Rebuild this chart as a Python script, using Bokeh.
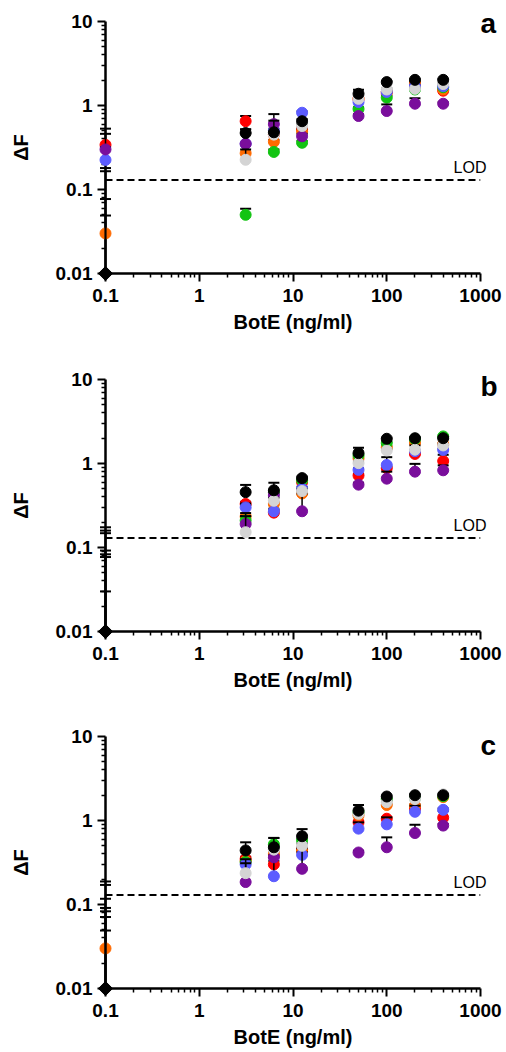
import numpy as np
from bokeh.plotting import figure
from bokeh.layouts import column
from bokeh.models import FixedTicker, CustomJSTickFormatter
from bokeh.core.properties import value
from bokeh.embed import file_html
from bokeh.resources import INLINE

# ---------------- data ----------------
CONC = [0.1, 3.125, 6.25, 12.5, 50, 100, 200, 400]   # BotE (ng/ml)
X_TICKS = [0.1, 1, 10, 100, 1000]
Y_TICKS = [0.01, 0.1, 1, 10]
LOD = 0.13
SERIES = ["red", "orange", "green", "blue", "purple", "grey", "black"]
COLORS = {"red": "#FF0000", "orange": "#FF6A00", "green": "#12C412", "blue": "#5C5CFF",
          "purple": "#7A0E9C", "grey": "#D4D4D4", "black": "#000000"}

# panel a  (mean, upper error)
a_red = [0.34, 0.65, 0.45, 0.52, 1.20, 1.45, 1.80, 1.50]
a_red_sd = [0.19, 0.10, 0.03, 0.03, 0.05, 0.05, 0.05, 0.05]
a_orange = [0.030, 0.27, 0.37, 0.49, 1.20, 1.38, 1.85, 1.55]
a_orange_sd = [0.019, 0.08, 0.02, 0.03, 0.05, 0.05, 0.05, 0.05]
a_green = [0.004, 0.050, 0.28, 0.36, 0.91, 1.24, 1.55, 1.65]
a_green_sd = [0.176, 0.009, 0.02, 0.02, 0.05, 0.05, 0.05, 0.05]
a_blue = [0.225, 0.35, 0.50, 0.82, 1.10, 1.45, 1.70, 1.70]
a_blue_sd = [0.095, 0.17, 0.03, 0.03, 0.05, 0.05, 0.05, 0.05]
a_purple = [0.30, 0.35, 0.60, 0.43, 0.75, 0.86, 1.05, 1.05]
a_purple_sd = [0.16, 0.12, 0.19, 0.03, 0.04, 0.17, 0.17, 0.04]
a_grey = [0.003, 0.226, 0.45, 0.57, 1.20, 1.55, 1.58, 1.80]
a_grey_sd = [0.162, 0.074, 0.03, 0.03, 0.05, 0.05, 0.05, 0.05]
a_black = [0.002, 0.47, 0.48, 0.65, 1.38, 1.90, 2.02, 2.02]
a_black_sd = [0.075, 0.05, 0.18, 0.04, 0.16, 0.05, 0.05, 0.05]

# panel b
b_red = [0.005, 0.33, 0.26, 0.60, 0.72, 0.88, 1.30, 1.07]
b_red_sd = [0.169, 0.02, 0.02, 0.03, 0.03, 0.04, 0.05, 0.20]
b_orange = [0.004, 0.234, 0.33, 0.44, 1.15, 1.55, 1.75, 1.70]
b_orange_sd = [0.155, 0.10, 0.02, 0.03, 0.05, 0.05, 0.05, 0.05]
b_green = [0.003, 0.21, 0.45, 0.63, 1.25, 1.75, 1.95, 2.10]
b_green_sd = [0.145, 0.026, 0.03, 0.03, 0.05, 0.05, 0.05, 0.05]
b_blue = [0.002, 0.30, 0.27, 0.50, 0.84, 0.96, 1.40, 1.45]
b_blue_sd = [0.090, 0.02, 0.02, 0.03, 0.04, 0.23, 0.05, 0.05]
b_purple = [0.003, 0.19, 0.42, 0.27, 0.56, 0.66, 0.80, 0.83]
b_purple_sd = [0.080, 0.067, 0.03, 0.17, 0.03, 0.14, 0.19, 0.12]
b_grey = [0.002, 0.152, 0.36, 0.47, 1.01, 1.43, 1.46, 1.64]
b_grey_sd = [0.075, 0.084, 0.03, 0.03, 0.05, 0.05, 0.18, 0.05]
b_black = [0.005, 0.456, 0.48, 0.67, 1.33, 1.97, 2.00, 2.00]
b_black_sd = [0.025, 0.10, 0.11, 0.03, 0.21, 0.05, 0.05, 0.05]

# panel c
c_red = [0.005, 0.35, 0.30, 0.45, 0.95, 1.05, 1.38, 1.08]
c_red_sd = [0.183, 0.02, 0.03, 0.03, 0.04, 0.04, 0.05, 0.22]
c_orange = [0.030, 0.33, 0.40, 0.43, 1.15, 1.53, 1.50, 1.90]
c_orange_sd = [0.019, 0.02, 0.03, 0.03, 0.05, 0.05, 0.05, 0.05]
c_green = [0.004, 0.32, 0.52, 0.58, 1.25, 1.80, 1.85, 1.95]
c_green_sd = [0.167, 0.02, 0.10, 0.03, 0.05, 0.05, 0.05, 0.05]
c_blue = [0.003, 0.30, 0.217, 0.39, 0.80, 0.90, 1.27, 1.34]
c_blue_sd = [0.114, 0.02, 0.15, 0.03, 0.15, 0.19, 0.23, 0.05]
c_purple = [0.003, 0.185, 0.365, 0.266, 0.416, 0.48, 0.71, 0.87]
c_purple_sd = [0.088, 0.125, 0.02, 0.21, 0.02, 0.15, 0.18, 0.04]
c_grey = [0.002, 0.236, 0.45, 0.50, 1.20, 1.65, 1.80, 2.05]
c_grey_sd = [0.081, 0.11, 0.03, 0.03, 0.05, 0.05, 0.05, 0.05]
c_black = [0.003, 0.44, 0.48, 0.65, 1.31, 1.93, 2.00, 2.00]
c_black_sd = [0.068, 0.11, 0.14, 0.14, 0.22, 0.05, 0.05, 0.05]

PANEL_A = {"red": (a_red, a_red_sd), "orange": (a_orange, a_orange_sd), "green": (a_green, a_green_sd),
           "blue": (a_blue, a_blue_sd), "purple": (a_purple, a_purple_sd), "grey": (a_grey, a_grey_sd),
           "black": (a_black, a_black_sd)}
PANEL_B = {"red": (b_red, b_red_sd), "orange": (b_orange, b_orange_sd), "green": (b_green, b_green_sd),
           "blue": (b_blue, b_blue_sd), "purple": (b_purple, b_purple_sd), "grey": (b_grey, b_grey_sd),
           "black": (b_black, b_black_sd)}
PANEL_C = {"red": (c_red, c_red_sd), "orange": (c_orange, c_orange_sd), "green": (c_green, c_green_sd),
           "blue": (c_blue, c_blue_sd), "purple": (c_purple, c_purple_sd), "grey": (c_grey, c_grey_sd),
           "black": (c_black, c_black_sd)}

FONT = "Liberation Sans"


def minor_of(ticks):
    return [k * t for t in ticks[:-1] for k in range(2, 10)]


def style_axis(ax, ticks):
    ax.ticker = FixedTicker(ticks=ticks, minor_ticks=minor_of(ticks))
    ax.formatter = CustomJSTickFormatter(code="return tick.toString()")
    ax.axis_line_width = 2.5
    ax.axis_line_color = "black"
    ax.major_tick_line_width = 2
    ax.major_tick_line_color = "black"
    ax.minor_tick_line_width = 1.5
    ax.minor_tick_line_color = "black"
    ax.major_tick_out = 8
    ax.major_tick_in = 0
    ax.minor_tick_out = 4
    ax.minor_tick_in = 0
    ax.major_label_text_font = FONT
    ax.major_label_text_font_style = "bold"
    ax.major_label_text_font_size = "19px"
    ax.major_label_text_color = "black"
    ax.axis_label_text_font = FONT
    ax.axis_label_text_font_style = "bold"
    ax.axis_label_text_color = "black"


def make_panel(letter, data, height, top, bottom, letter_dy):
    p = figure(width=506, height=height, x_axis_type="log", y_axis_type="log",
               x_range=(X_TICKS[0], X_TICKS[-1]), y_range=(Y_TICKS[0], Y_TICKS[-1]),
               min_border_left=105, min_border_right=26, min_border_top=top,
               min_border_bottom=bottom, toolbar_location=None, output_backend="svg")
    p.outline_line_color = None
    p.xgrid.visible = False
    p.ygrid.visible = False
    p.background_fill_color = "white"
    p.border_fill_color = "white"

    style_axis(p.xaxis[0], X_TICKS)
    style_axis(p.yaxis[0], Y_TICKS)
    p.xaxis.major_label_standoff = 7
    p.yaxis.major_label_standoff = 5
    p.xaxis.axis_label = "BotE (ng/ml)"
    p.xaxis.axis_label_text_font_size = "20px"
    p.xaxis.axis_label_standoff = 6
    p.yaxis.axis_label = "ΔF"
    p.yaxis.axis_label_text_font_size = "20px"
    p.yaxis.axis_label_standoff = 21

    # LOD line and label
    p.line([X_TICKS[0], X_TICKS[-1]], [LOD, LOD], line_color="black", line_width=2,
           line_dash="7 4")
    p.text(x=[X_TICKS[-1]], y=[LOD], text=["LOD"], text_align="right",
           text_baseline="alphabetic", x_offset=6, y_offset=-12, text_font=value(FONT),
           text_font_size="16px", text_color="black", level="overlay")

    conc = np.array(CONC, dtype=float)
    ymin = Y_TICKS[0]
    for s in SERIES:
        vals = np.array(data[s][0], dtype=float)
        err = np.array(data[s][1], dtype=float)
        up = vals + err
        stem_lo = np.maximum(vals, ymin)
        p.segment(x0=conc, y0=stem_lo, x1=conc, y1=up, line_color="black",
                  line_width=1.5, level="overlay")
        keep = up >= ymin
        p.scatter(x=conc[keep], y=up[keep], marker="dash", size=11,
                  line_color="black", line_width=2, level="overlay")
        shown = vals >= ymin
        p.scatter(x=conc[shown], y=vals[shown], size=11, fill_color=COLORS[s],
                  line_color=COLORS[s], level="overlay")

    # axis origin marker
    p.scatter(x=[X_TICKS[0]], y=[Y_TICKS[0]], marker="square", angle=np.pi / 4, size=10,
              fill_color="black", line_color="black", level="overlay")

    # panel letter
    p.text(x=[X_TICKS[-1]], y=[Y_TICKS[-1]], text=[letter], text_align="left",
           text_baseline="alphabetic", y_offset=letter_dy, text_font=value(FONT),
           text_font_style="bold", text_font_size="28px", text_color="black",
           level="overlay")
    return p


pa = make_panel("a", PANEL_A, 357, 21, 84, 2)
pb = make_panel("b", PANEL_B, 358, 22, 84, 7)
pc = make_panel("c", PANEL_C, 337, 21, 64, 9)

layout = column(pa, pb, pc, spacing=0)
open("out.html", "w").write(file_html(layout, INLINE))
